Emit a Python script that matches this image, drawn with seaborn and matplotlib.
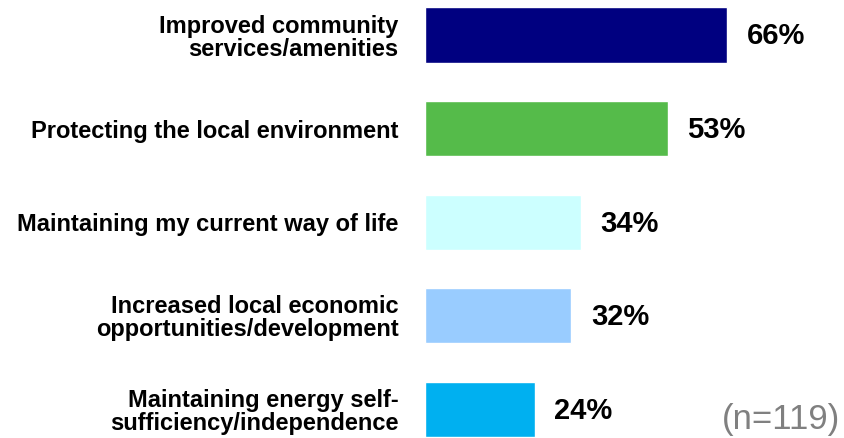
import matplotlib
matplotlib.use("Agg")
import matplotlib.pyplot as plt
import seaborn as sns
import pandas as pd

categories = [
    "Improved community\nservices/amenities",
    "Protecting the local environment",
    "Maintaining my current way of life",
    "Increased local economic\nopportunities/development",
    "Maintaining energy self-\nsufficiency/independence",
]
values = [66, 53, 34, 32, 24]
colors = ["#000080", "#55BB4A", "#CCFFFF", "#99CCFF", "#00B0F0"]
sample_note = "(n=119)"

sns.set_theme(style="white")
plt.rcParams["font.family"] = ["Liberation Sans", "DejaVu Sans"]

df = pd.DataFrame({"category": categories, "value": values})

fig = plt.figure(figsize=(8.44, 4.38), dpi=100)
ax = fig.add_axes([425 / 844, 0.0, 419 / 844, 1.0])

sns.barplot(data=df, x="value", y="category", hue="category",
            palette=colors, orient="h", width=0.59, legend=False,
            saturation=1, ax=ax)

ax.set_xlim(0, 419 / 4.576)
ax.set_ylim(4.306, -0.374)
ax.set_xlabel("")
ax.set_ylabel("")
ax.set_xticks([])
for s in ax.spines.values():
    s.set_visible(False)

ax.tick_params(axis="y", length=0, pad=19)
for lab in ax.get_yticklabels():
    lab.set_fontsize(17)
    lab.set_fontweight("bold")
    lab.set_color("black")
    lab.set_linespacing(1.0)

for i, v in enumerate(values):
    ax.annotate(f"{v}%", xy=(v, i), xytext=(14, -1), textcoords="offset points",
                ha="left", va="center", fontsize=21, fontweight="bold",
                color="black")

fig.text(840 / 844, 1 - 419 / 438, sample_note, ha="right", va="center",
         fontsize=25, color="#808080")

fig.savefig("out.png", dpi=100)
